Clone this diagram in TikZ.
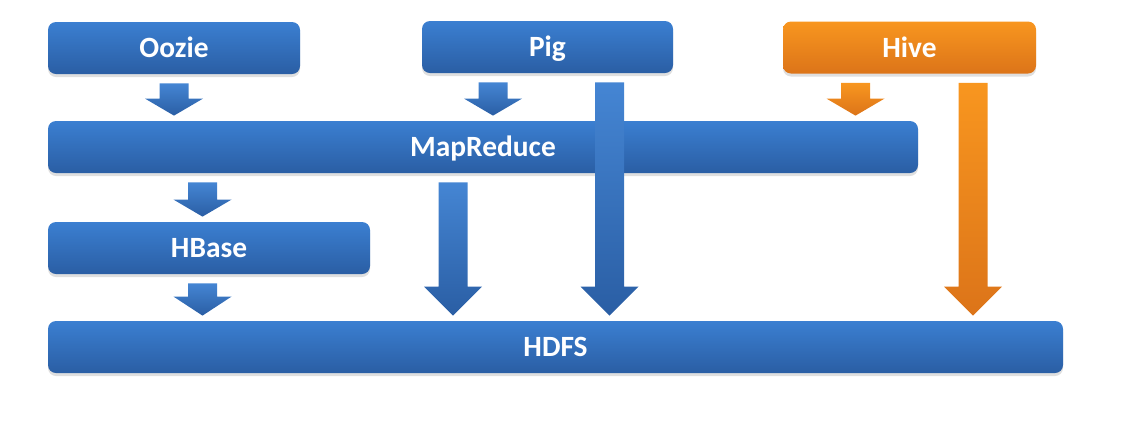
\documentclass[tikz,border=0pt]{standalone}
\usepackage{fontspec}
\setmainfont{Carlito}
\usepackage{tikz}
\usetikzlibrary{calc}
\usetikzlibrary{shadows}
\definecolor{blueTop}{HTML}{3B7FD1}
\definecolor{blueBot}{HTML}{2A5EA4}
\definecolor{orangeTop}{HTML}{F8961F}
\definecolor{orangeBot}{HTML}{DC7419}
\tikzset{
  box/.style={rectangle, rounded corners=4pt, minimum height=26pt, inner sep=0pt,
    text height=11pt, text depth=1.5pt,
    text=white, font=\bfseries\fontsize{14.7}{16}\selectfont,
    top color=blueTop, bottom color=blueBot,
    drop shadow={shadow xshift=0pt, shadow yshift=-1.5pt, opacity=0.25}},
  hivebox/.style={box, top color=orangeTop, bottom color=orangeBot},
  bluearrow/.style={top color=blueTop!95!white, bottom color=blueBot},
  orangearrow/.style={top color=orangeTop, bottom color=orangeBot}
}
\def\blockarrow[#1](#2)(#3)(#4)(#5)% Syntax: [fill options] (x) (from node) (to node) (head length)
    { \path ($(#3.south -| #2,0)+(0,9)$) coordinate (top) ($(#4.north -| #2,0)+(0,-5)$) coordinate (tip);
      \shade[#1] ($(top)+(-14.5,0)$) -- ($(top)+(14.5,0)$) -- ($(tip)+(14.5,-#5)$) -- ($(tip)+(29,-#5)$)
        -- (tip) -- ($(tip)+(-29,-#5)$) -- ($(tip)+(-14.5,-#5)$) -- cycle; }

\begin{document}
\begin{tikzpicture}[x=0.5pt, y=-0.5pt]
      \useasboundingbox (0,0) rectangle (1122,430);

      %TOP ROW
      \node[box, minimum width=126pt] (oozie) at (174,48) {Oozie};
      \node[box, minimum width=125.5pt] (pig) at (547.5,47) {Pig};
      \node[hivebox, minimum width=126.5pt] (hive) at (909.5,47.5) {Hive};

      %MIDDLE AND BOTTOM
      \node[box, minimum width=435pt] (mapred) at (483,147) {MapReduce};
      \node[box, minimum width=161pt] (hbase) at (209,248) {HBase};
      \node[box, minimum width=507.5pt] (hdfs) at (555.5,347) {HDFS};

      %SHORT ARROWS
      \blockarrow[bluearrow](174)(oozie)(mapred)(17)
      \blockarrow[bluearrow](493)(pig)(mapred)(17)
      \blockarrow[orangearrow](855.5)(hive)(mapred)(17)
      \blockarrow[bluearrow](202.5)(mapred)(hbase)(17)
      \blockarrow[bluearrow](202.5)(hbase)(hdfs)(19)

      %LONG ARROWS
      \blockarrow[bluearrow](453)(mapred)(hdfs)(29)
      \blockarrow[bluearrow](609.5)(pig)(hdfs)(29)
      \blockarrow[orangearrow](973)(hive)(hdfs)(29)
\end{tikzpicture}
\end{document}
